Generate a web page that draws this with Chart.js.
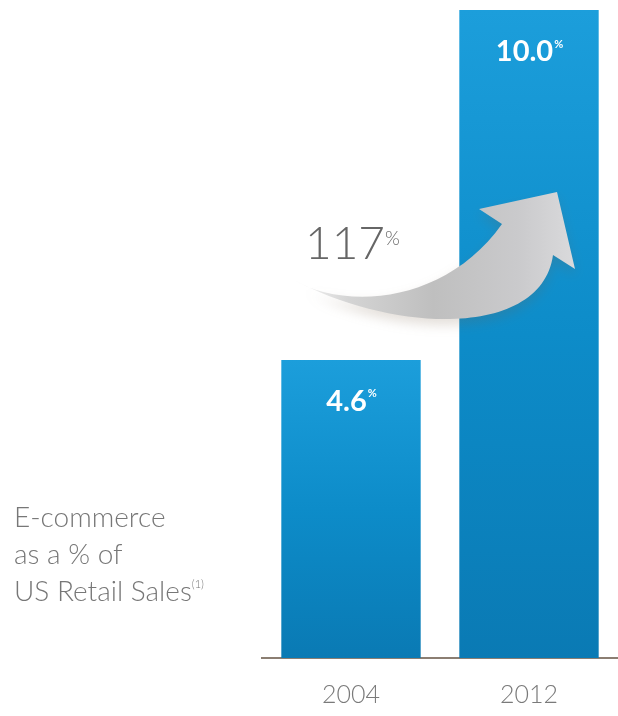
<!DOCTYPE html>
<html>
<head>
<meta charset="utf-8">
<script src="https://cdn.jsdelivr.net/npm/chart.js@4"></script>
<style>
  html, body { margin: 0; padding: 0; background: #fff; overflow: hidden; }
  #wrap { position: relative; width: 618px; height: 716px; }
  #share-chart { position: absolute; left: 0; top: 0; }
  .caption {
    position: absolute; left: 14px; top: 498px;
    font-family: Lato, "Open Sans", sans-serif; font-weight: 300;
    font-size: 28px; line-height: 37px; color: #777777;
  }
  .caption sup { font-size: 11px; vertical-align: 0; position: relative; top: -13px; }
</style>
</head>
<body>
<div id="wrap">
  <canvas id="share-chart" width="618" height="716"></canvas>
  <div class="caption">E-commerce<br>as a % of<br>US Retail Sales<sup>(1)</sup></div>
</div>
<script>
// E-commerce share of US retail sales
const years = ["2004", "2012"];
const shares = [4.6, 10.0];
const yTicks = [0, 10];

// growth between the two years, shown next to the arrow
const growth = Math.round((shares[1] / shares[0] - 1) * 100);

const FONT = "Lato, 'Open Sans', sans-serif";

// bar fill: lighter blue at the top of each bar, deeper at the base
function barFill(context) {
  const chart = context.chart;
  if (!chart.chartArea) return "#0a8cc8";
  const y = chart.scales.y;
  const g = chart.ctx.createLinearGradient(0, y.getPixelForValue(context.raw), 0, y.getPixelForValue(0));
  g.addColorStop(0, "#1c9edb");
  g.addColorStop(0.5, "#0d8cc9");
  g.addColorStop(1, "#0a7ab4");
  return g;
}

// value labels inside the bars, with a small raised "%"
const valueLabels = {
  id: "valueLabels",
  afterDatasetsDraw(chart) {
    const c = chart.ctx;
    const bars = chart.getDatasetMeta(0).data;
    c.save();
    c.fillStyle = "#ffffff";
    c.textBaseline = "middle";
    c.textAlign = "left";
    bars.forEach((bar, i) => {
      const main = shares[i].toFixed(1);
      c.font = "bold 29px " + FONT;
      const w1 = c.measureText(main).width;
      c.font = "bold 11px " + FONT;
      const w2 = c.measureText("%").width;
      const x0 = bar.x - (w1 + w2) / 2;
      const cy = bar.y + 42;
      c.font = "bold 29px " + FONT;
      c.fillText(main, x0, cy);
      c.font = "bold 11px " + FONT;
      c.fillText("%", x0 + w1 + 1, cy - 8);
    });
    c.restore();
  }
};

// curved growth arrow from the 2004 bar up into the 2012 bar
const growthArrow = {
  id: "growthArrow",
  afterDatasetsDraw(chart) {
    const c = chart.ctx;
    const ax = chart.scales.x.getPixelForValue(1);
    const ay = chart.scales.y.getPixelForValue(shares[0]);
    const p = (dx, dy) => [ax + dx, ay + dy];

    c.save();
    c.beginPath();
    c.moveTo(...p(-237, -81));
    c.bezierCurveTo(...p(-182, -48), ...p(-82, -58), ...p(-27, -136));
    c.lineTo(...p(-50, -151));
    c.lineTo(...p(28, -168));
    c.lineTo(...p(46, -91));
    c.lineTo(...p(24, -105));
    c.bezierCurveTo(...p(13, -23), ...p(-132, -25), ...p(-237, -81));
    c.closePath();

    const g = c.createLinearGradient(ax - 237, 0, ax + 46, 0);
    g.addColorStop(0, "#f8f8f8");
    g.addColorStop(0.2, "#d4d4d4");
    g.addColorStop(0.5, "#bfbfbf");
    g.addColorStop(0.8, "#cacacc");
    g.addColorStop(1, "#dadadc");
    c.shadowColor = "rgba(120, 95, 70, 0.2)";
    c.shadowBlur = 12;
    c.shadowOffsetY = 6;
    c.fillStyle = g;
    c.fill();
    c.restore();

    // growth figure
    c.save();
    c.fillStyle = "#666666";
    c.textBaseline = "alphabetic";
    c.textAlign = "left";
    c.font = "300 46px " + FONT;
    const [tx, ty] = p(-224, -101);
    const txt = String(growth);
    c.fillText(txt, tx, ty);
    const w = c.measureText(txt).width;
    c.font = "300 19px " + FONT;
    c.fillText("%", tx + w, ty - 14);
    c.restore();
  }
};

new Chart(document.getElementById("share-chart").getContext("2d"), {
  type: "bar",
  data: {
    labels: years,
    datasets: [{
      label: "E-commerce as a % of US Retail Sales",
      data: shares,
      backgroundColor: barFill,
      borderWidth: 0,
      categoryPercentage: 1.0,
      barPercentage: 0.783
    }]
  },
  options: {
    responsive: false,
    animation: false,
    layout: { padding: { left: 262, right: -4, top: 10, bottom: 0 } },
    plugins: { legend: { display: false }, tooltip: { enabled: false } },
    scales: {
      y: { display: false, min: yTicks[0], max: yTicks[1] },
      x: {
        grid: { display: false, drawTicks: false },
        border: { display: true, color: "#8b7e72", width: 2 },
        ticks: { color: "#7a7a7a", padding: 22, font: { family: FONT, size: 25, weight: "300" } },
        afterFit(scale) { scale.height = 58; }
      }
    }
  },
  plugins: [growthArrow, valueLabels]
});
</script>
</body>
</html>
